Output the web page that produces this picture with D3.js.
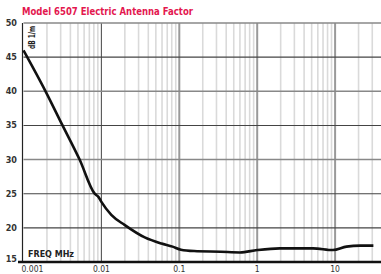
<!DOCTYPE html>
<html><head><meta charset="utf-8">
<script src="https://cdn.jsdelivr.net/npm/d3@7"></script>
<style>html,body{margin:0;padding:0;background:#fff;overflow:hidden}</style>
</head><body>
<script>
const title = "Model 6507 Electric Antenna Factor";
const freqs  = [0.001, 0.00192, 0.00317, 0.00525, 0.0082, 0.0092, 0.01, 0.0134, 0.02, 0.036, 0.059, 0.082, 0.105, 0.155, 0.34, 0.6, 1, 1.95, 5.2, 9.4, 14, 21, 31];
const values = [46.0, 40.0, 35.0, 30.0, 25.0, 24.5, 23.8, 21.9, 20.4, 18.6, 17.7, 17.25, 16.8, 16.6, 16.5, 16.4, 16.75, 17.0, 17.0, 16.75, 17.25, 17.4, 17.4];
const yTicks = [15, 20, 25, 30, 35, 40, 45, 50];
const xTicks = [0.001, 0.01, 0.1, 1, 10];
const xTickLabels = ["0.001", "0.01", "0.1", "1", "10"];

const W = 381, H = 274;
const FONT = "'Liberation Sans Narrow','DejaVu Sans Condensed',sans-serif";
const svg = d3.select("body").append("svg").attr("width", W).attr("height", H);
const x = d3.scaleLog().domain([0.001, 40]).range([23.5, 382]);
const y = d3.scaleLinear().domain([15, 50]).range([262, 23]);

// minor vertical gridlines
const minors = [];
[0.001, 0.01, 0.1, 1, 10].forEach(d => { for (let k = 2; k <= 9; k++) { const v = d * k; if (v <= 40) minors.push(v); } });
svg.append("g").selectAll("line").data(minors).join("line")
  .attr("x1", d => x(d)).attr("x2", d => x(d)).attr("y1", y(50)).attr("y2", y(15))
  .attr("stroke", "#dadada").attr("stroke-width", 1.6);
// decade lines
svg.append("g").selectAll("line").data([0.01, 0.1, 1, 10]).join("line")
  .attr("x1", d => x(d)).attr("x2", d => x(d)).attr("y1", y(50)).attr("y2", y(15))
  .attr("stroke", d => d === 0.01 ? "#555" : "#999").attr("stroke-width", d => d === 0.01 ? 1.1 : 2);
// horizontal gridlines
svg.append("g").selectAll("line").data(yTicks.filter(d => d > 15)).join("line")
  .attr("x1", x(0.001)).attr("x2", W).attr("y1", d => y(d)).attr("y2", d => y(d))
  .attr("stroke", d => (d === 50 || d === 40 || d === 30) ? "#888" : "#444")
  .attr("stroke-width", d => (d === 50 || d === 40 || d === 30) ? 1.6 : 1.1);

// left axis
svg.append("line").attr("x1", x(0.001) - 1).attr("x2", x(0.001) - 1).attr("y1", y(50)).attr("y2", y(15))
  .attr("stroke", "#222").attr("stroke-width", 1.2);
// bottom axis
svg.append("line").attr("x1", 18).attr("x2", W).attr("y1", y(15)).attr("y2", y(15))
  .attr("stroke", "#111").attr("stroke-width", 2.5);

// y labels
svg.append("g").selectAll("text").data(yTicks).join("text")
  .attr("x", 17).attr("y", d => y(d) + (d === 15 ? 0 : 3))
  .attr("text-anchor", "end").attr("font-family", FONT)
  .attr("font-weight", "bold").attr("font-size", 9).attr("fill", "#333").text(d => d);

// x labels
svg.append("g").selectAll("text").data(xTicks).join("text")
  .attr("x", (d, i) => i === 0 ? x(d) - 2 : x(d)).attr("y", 272)
  .attr("text-anchor", (d, i) => i === 0 ? "start" : "middle")
  .attr("font-family", FONT)
  .attr("font-size", 8.5).attr("fill", "#333").text((d, i) => xTickLabels[i]);

// title
svg.append("text").attr("x", 22).attr("y", 15).attr("font-family", FONT)
  .attr("font-weight", "bold").attr("font-size", 10.5).attr("fill", "#e3174f")
  .attr("textLength", 171).attr("lengthAdjust", "spacingAndGlyphs").text(title);

// unit label
svg.append("text").attr("transform", `translate(35,49) rotate(-90)`)
  .attr("font-family", FONT)
  .attr("font-weight", "bold").attr("font-size", 8).attr("fill", "#222")
  .attr("textLength", 23).attr("lengthAdjust", "spacingAndGlyphs").text("dB 1/m");

// FREQ MHz
svg.append("text").attr("x", 28).attr("y", 257).attr("font-family", FONT)
  .attr("font-weight", "bold").attr("font-size", 8.5).attr("fill", "#222")
  .attr("textLength", 46).attr("lengthAdjust", "spacingAndGlyphs").text("FREQ  MHz");

// curve
const data = freqs.map((f, i) => [f, values[i]]);
svg.append("path").datum(data)
  .attr("d", d3.line().x(d => x(d[0])).y(d => y(d[1])).curve(d3.curveMonotoneX))
  .attr("fill", "none").attr("stroke", "#111").attr("stroke-width", 2.6).attr("stroke-linejoin", "round");
</script>
</body></html>
